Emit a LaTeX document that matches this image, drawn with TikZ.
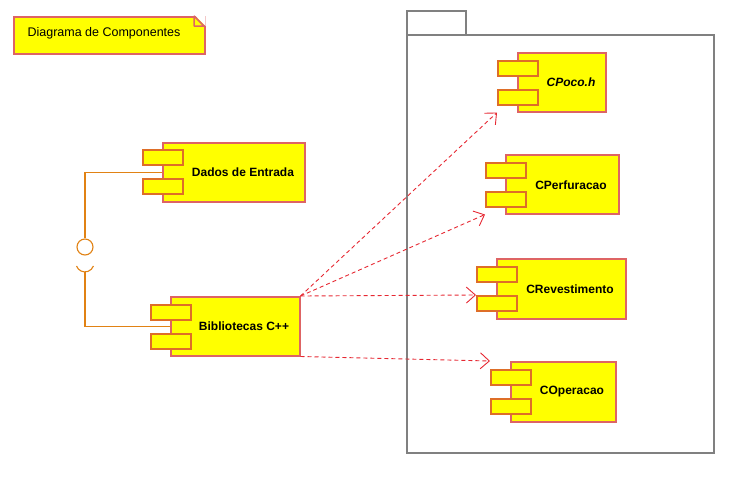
\documentclass[tikz,border=0pt]{standalone}
\usepackage{fontspec}
\setmainfont{Liberation Sans}
\usetikzlibrary{arrows.meta}
\definecolor{compborder}{RGB}{222,100,100}
\definecolor{tabborder}{RGB}{222,110,40}
\definecolor{lolline}{RGB}{225,130,20}
\definecolor{deparrow}{RGB}{230,40,50}
\definecolor{pkggray}{RGB}{128,128,128}
\definecolor{compfill}{RGB}{255,255,0}
\begin{document}
\begin{tikzpicture}[x=1pt,y=-1pt,
  compbox/.style={draw=compborder,fill=compfill,line width=1.5pt,inner sep=0pt,anchor=north west},
  tabbox/.style={draw=tabborder,fill=compfill,line width=1.5pt,inner sep=0pt,minimum width=40pt,minimum height=15pt,anchor=north west},
  comptext/.style={font=\bfseries\fontsize{12}{14}\selectfont,inner sep=0pt},
  dep/.style={draw=deparrow,line width=0.9pt,dash pattern=on 4pt off 3pt,-{Straight Barb[length=9pt,width=16pt,line width=0.9pt]}},
  lol/.style={draw=lolline,line width=1.1pt},
  pkg/.style={draw=pkggray,line width=1.8pt}]
\useasboundingbox (0,0) rectangle (749,482);
% note
\node[draw=compborder,fill=compfill,line width=1.5pt,inner sep=0pt,anchor=north west,
  minimum width=191pt,minimum height=37pt] (note) at (13,16) {};
\fill[white] (194,14.5) -- (205.5,14.5) -- (205.5,26) -- cycle;
\draw[compborder,line width=1.5pt,fill=compfill,line join=bevel] (194,16) -- (204,26) -- (194,26) -- cycle;
\node[font=\fontsize{12.5}{14}\selectfont,inner sep=0pt] (notetext) at (104,33) {Diagrama de Componentes};
% package
\node[pkg,inner sep=0pt,anchor=north west,minimum width=59pt,minimum height=24pt] (pkgtab) at (406,10) {};
\node[pkg,inner sep=0pt,anchor=north west,minimum width=307pt,minimum height=418pt] (pkg) at (406,34) {};
% Dados de Entrada
\node[compbox,minimum width=142pt,minimum height=59pt] (dados) at (162,142) {};
\node[tabbox] (dtab1) at (142,149) {};
\node[tabbox] (dtab2) at (142,178) {};
\node[comptext] (dadosT) at (243,172) {Dados de Entrada};
% Bibliotecas
\node[compbox,minimum width=129pt,minimum height=59pt] (bib) at (170,296) {};
\node[tabbox] (btab1) at (150,304) {};
\node[tabbox] (btab2) at (150,333) {};
\node[comptext] (bibT) at (244,326) {Bibliotecas C++};
% CPoco.h
\node[compbox,minimum width=88pt,minimum height=59pt] (poco) at (517,52) {};
\node[tabbox] (ptab1) at (497,60) {};
\node[tabbox] (ptab2) at (497,89) {};
\node[comptext,font=\bfseries\itshape\fontsize{12}{14}\selectfont] (pocoT) at (571,82) {CPoco.h};
% CPerfuracao
\node[compbox,minimum width=113pt,minimum height=59pt] (perf) at (505,154) {};
\node[tabbox] (pftab1) at (485,162) {};
\node[tabbox] (pftab2) at (485,191) {};
\node[comptext] (perfT) at (571,185) {CPerfuracao};
% CRevestimento
\node[compbox,minimum width=129pt,minimum height=60pt] (rev) at (496,258) {};
\node[tabbox] (rtab1) at (476,266) {};
\node[tabbox] (rtab2) at (476,295) {};
\node[comptext] (revT) at (570,289) {CRevestimento};
% COperacao
\node[compbox,minimum width=105pt,minimum height=60pt] (oper) at (510,361) {};
\node[tabbox] (otab1) at (490,369) {};
\node[tabbox] (otab2) at (490,398) {};
\node[comptext] (operT) at (572,392) {COperacao};
% lollipop
\node[lol,circle,inner sep=0pt,minimum size=16pt] (ball) at (85,247) {};
\coordinate (socket) at (85,272);
\draw[lol] (dados.west) -| (ball.north);
\draw[lol] (76.5,266) arc[start angle=200,end angle=340,radius=9pt];
\draw[lol] (socket) |- (bib.west);
% dependencies
\draw[dep] (bib.north east) -- (ptab2.west |- poco.south);
\draw[dep] (bib.north east) -- (pftab2.west |- perf.south);
\draw[dep] (bib.north east) -- (rtab2.north west);
\draw[dep] (bib.south east) -- (otab1.west |- oper.north);
\end{tikzpicture}
\end{document}
